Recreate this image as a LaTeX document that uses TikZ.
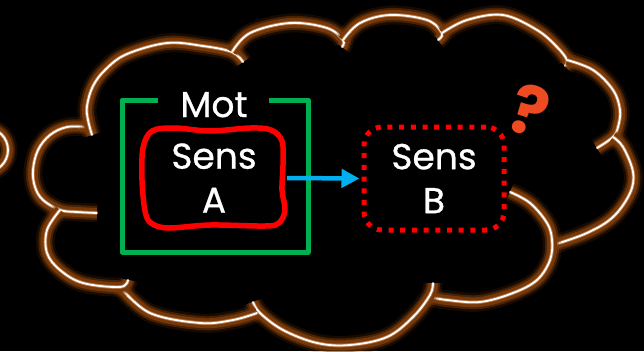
\documentclass[tikz,border=0pt]{standalone}
\usepackage{fontspec}
\setmainfont{Poppins}
\newfontfamily\labelfont{Poppins}[FakeBold=0.7]
\usetikzlibrary{arrows.meta}
\definecolor{glowbrown}{HTML}{763808}
\definecolor{glowlight}{HTML}{D09060}
\definecolor{framegreen}{HTML}{00B050}
\definecolor{linkblue}{HTML}{00B0F0}
\definecolor{qcolor}{HTML}{EE4B22}
\begin{document}
\begin{tikzpicture}[x=1pt,y=-1pt,
  glow/.style={white, line width=1.8pt, line cap=round, line join=round,
    preaction={draw=glowbrown, line width=19pt, draw opacity=0.2},
    preaction={draw=glowbrown, line width=14pt, draw opacity=0.5},
    preaction={draw=glowbrown, line width=10pt},
    preaction={draw=glowlight, line width=3.6pt, draw opacity=0.7}},
  bump/.style={glow, smooth, tension=0.6},
  txt/.style={text=white, font=\labelfont\fontsize{36}{44}\selectfont, align=center, inner sep=0pt},
  sensebox/.style={txt, minimum width=140pt, minimum height=100pt},
  link/.style={draw=linkblue, line width=4.5pt, -{Triangle[length=18pt,width=18pt]}},
  qmark/.style={text=qcolor, font=\bfseries\fontsize{68}{68}\selectfont, rotate=-18, inner sep=0pt}]

% canvas
\fill[black] (0,0) rectangle (644,351);
\useasboundingbox (0,0) rectangle (644,351);
\clip (0,0) rectangle (644,351);

% thought bubble: small dot at the left edge
\draw[glow] (-14,150) circle[radius=22];

% thought bubble: cloud outline, one arc per bump
\draw[bump] plot coordinates {(88,127) (67,127) (50,135) (38,150) (33,170) (35,187) (43,200) (60,210) (77,212) (97,213)};
\draw[bump] plot coordinates {(92,135) (88,120) (87,106) (93,86) (106,69) (127,54) (167,43) (203,46) (232,52) (243,62)};
\draw[bump] plot coordinates {(232,52) (250,33) (290,23) (327,28) (343,40) (342,47)};
\draw[bump] plot coordinates {(343,40) (360,23) (390,15) (427,20) (442,33) (438,40)};
\draw[bump] plot coordinates {(442,33) (467,20) (503,15) (537,30) (557,47) (567,60) (565,66)};
\draw[bump] plot coordinates {(567,60) (593,70) (613,90) (620,110) (618,127) (613,137) (597,148)};
\draw[bump] plot coordinates {(613,137) (623,147) (633,172) (630,193) (613,217) (587,233) (553,245)};
\draw[bump] plot coordinates {(510,192) (530,203) (547,223) (552,240) (550,260) (537,280) (513,293) (480,302) (447,300) (430,297)};
\draw[bump] plot coordinates {(433,283) (430,295) (413,317) (387,337) (350,345) (317,343) (283,330) (260,313) (253,302)};
\draw[bump] plot coordinates {(257,313) (233,320) (200,323) (150,313) (120,287)};
\draw[bump] plot coordinates {(60,210) (47,230) (47,253) (60,270) (83,283) (120,287) (128,280)};

% word frame with its label
\node[txt, anchor=base] (mot) at (214,117) {Mot};
\draw[framegreen, line width=5pt, line join=round]
  (158,100) -- (122,100) -- (122,252) -- (308,252) -- (308,100) -- (269,100);

% sense A: text and hand-drawn outline
\node[sensebox] (senseA) at (214,178) {Sens\\A};
\draw[red, line width=5.5pt, line join=round] plot[smooth cycle, tension=0.55] coordinates {
  (152,131) (175,128) (210,131) (250,128) (271,130) (282,141) (283,165) (282,190)
  (285,210) (279,223) (265,226) (210,225) (168,228) (151,223) (145,211) (142,180) (143,148)};

% sense B: dotted box, covering the cloud line behind it
\node[sensebox, draw=red, fill=black, line width=5pt, dash pattern=on 5pt off 6.7pt,
  rounded corners=18pt, minimum height=103pt] (senseB) at (434,178.5) {Sens\\B};

% link from A to B
\draw[link, shorten <=3pt, shorten >=2pt] (senseA.east) -- (senseB.west);

% question mark
\node[qmark] (q) at (530,110) {?};
\end{tikzpicture}
\end{document}
